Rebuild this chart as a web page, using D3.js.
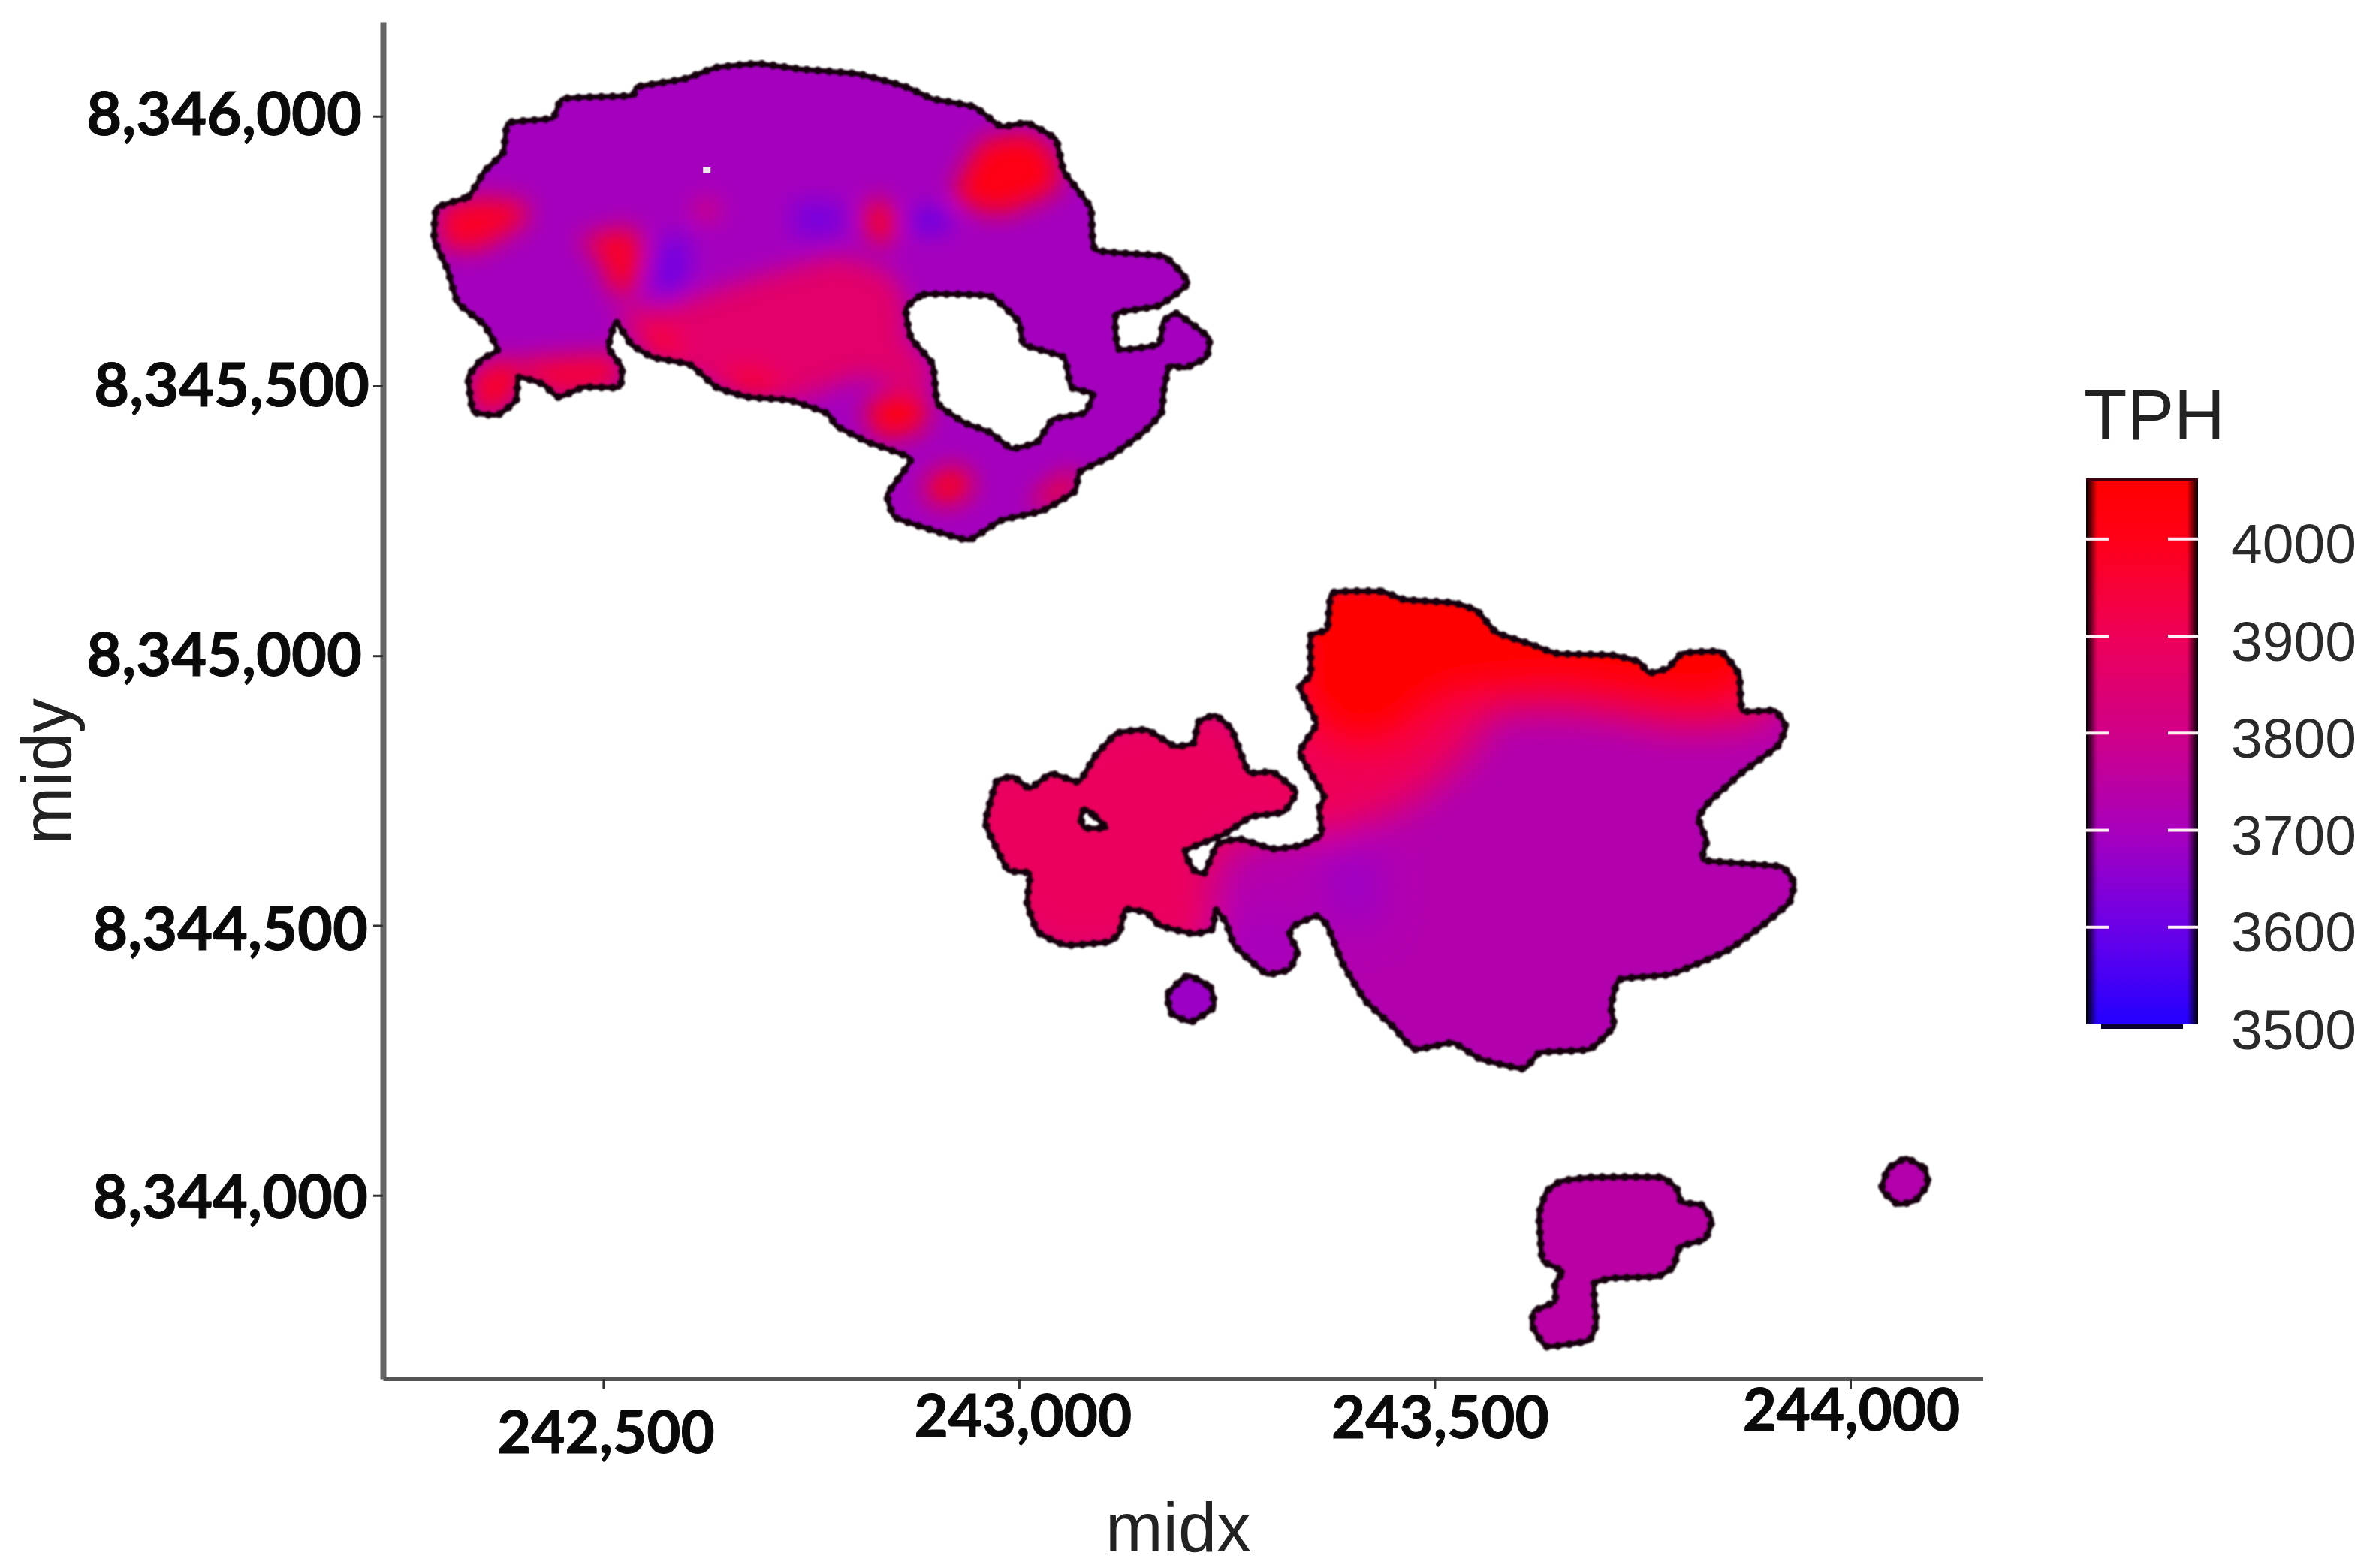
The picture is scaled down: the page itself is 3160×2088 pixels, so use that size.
<!DOCTYPE html>
<html>
<head>
<meta charset="utf-8">
<script src="https://cdn.jsdelivr.net/npm/d3@7"></script>
<style>
  html, body { margin: 0; background: #fff; }
  svg { display: block; }
</style>
</head>
<body>
<svg id="chart" width="3160" height="2088"></svg>
<script>
// axis ticks
const xTicks = [242500, 243000, 243500, 244000];
const yTicks = [8346000, 8345500, 8345000, 8344500, 8344000];
const tphTicks = [3500, 3600, 3700, 3800, 3900, 4000];
const tphRange = [3500, 4061];

// colour bar
const tphStops = [3500, 3600, 3700, 3800, 3900, 4000, 4061];
const tphColours = ["#2400ff", "#6c00e8", "#a800bc", "#d00088", "#ee0058", "#ff0018", "#ff0000"];

// outlines as [midx, midy]
const westOutline = [[242300,8345830],[242338,8345851],[242357,8345897],[242380,8345933],[242386,8345987],[242439,8345996],[242452,8346032],[242534,8346038],[242541,8346054],[242598,8346069],[242636,8346090],[242687,8346097],[242737,8346087],[242807,8346078],[242864,8346054],[242896,8346032],[242946,8346017],[242978,8345981],[243010,8345987],[243044,8345957],[243054,8345897],[243086,8345830],[243092,8345752],[243174,8345740],[243203,8345691],[243168,8345649],[243117,8345634],[243120,8345568],[243168,8345577],[243174,8345619],[243190,8345634],[243228,8345589],[243225,8345553],[243200,8345534],[243181,8345537],[243174,8345492],[243171,8345450],[243149,8345414],[243111,8345371],[243073,8345341],[243067,8345305],[243028,8345269],[242978,8345251],[242940,8345215],[242896,8345233],[242851,8345257],[242842,8345299],[242870,8345365],[242819,8345396],[242781,8345426],[242769,8345450],[242724,8345474],[242674,8345480],[242636,8345498],[242604,8345540],[242560,8345553],[242534,8345577],[242515,8345619],[242506,8345571],[242522,8345534],[242519,8345498],[242477,8345498],[242446,8345480],[242427,8345504],[242398,8345516],[242395,8345474],[242373,8345447],[242344,8345453],[242338,8345516],[242354,8345549],[242373,8345567],[242357,8345613],[242325,8345655],[242313,8345715],[242297,8345770]];
const westLake = [[242864,8345643],[242886,8345670],[242965,8345667],[243000,8345619],[243006,8345577],[243054,8345553],[243063,8345498],[243089,8345486],[243079,8345450],[243041,8345438],[243022,8345396],[242991,8345384],[242965,8345414],[242934,8345432],[242902,8345468],[242896,8345540],[242870,8345589]];
const westSpeck = [[242620,8345905],[242629,8345905],[242629,8345894],[242620,8345894]];
const eastOutline = [[243377,8345116],[243436,8345119],[243463,8345104],[243522,8345098],[243551,8345083],[243574,8345043],[243614,8345022],[243647,8345004],[243712,8345001],[243745,8344989],[243758,8344968],[243781,8344977],[243798,8345004],[243844,8345007],[243866,8344965],[243870,8344898],[243909,8344898],[243922,8344868],[243912,8344832],[243870,8344784],[243830,8344729],[243817,8344699],[243827,8344657],[243824,8344621],[243916,8344609],[243932,8344579],[243926,8344542],[243889,8344494],[243850,8344452],[243784,8344410],[243722,8344400],[243712,8344349],[243715,8344313],[243686,8344271],[243627,8344265],[243607,8344235],[243555,8344253],[243522,8344283],[243476,8344271],[243450,8344313],[243417,8344361],[243390,8344428],[243371,8344500],[243358,8344518],[243331,8344500],[243325,8344482],[243335,8344452],[243325,8344419],[243299,8344410],[243279,8344434],[243259,8344464],[243249,8344506],[243236,8344530],[243233,8344494],[243210,8344485],[243170,8344500],[243154,8344524],[243128,8344530],[243121,8344488],[243108,8344470],[243056,8344464],[243023,8344488],[243010,8344542],[243013,8344597],[242987,8344603],[242967,8344663],[242960,8344693],[242973,8344766],[242993,8344775],[243013,8344754],[243039,8344781],[243072,8344766],[243092,8344814],[243118,8344856],[243154,8344862],[243187,8344832],[243210,8344838],[243216,8344877],[243236,8344889],[243256,8344862],[243276,8344784],[243305,8344784],[243333,8344748],[243318,8344711],[243279,8344702],[243246,8344669],[243200,8344639],[243210,8344603],[243223,8344597],[243239,8344651],[243266,8344660],[243305,8344642],[243338,8344648],[243364,8344669],[243361,8344717],[243367,8344741],[243338,8344820],[243358,8344874],[243338,8344941],[243351,8344965],[243351,8345037],[243371,8345049]];
const eastHole = [[243079,8344717],[243092,8344702],[243105,8344681],[243079,8344681],[243074,8344699]];
const dotOutline = [[243203,8344407],[243230,8344385],[243234,8344349],[243207,8344322],[243184,8344337],[243179,8344373]];
const southOutline = [[243652,8344026],[243688,8344033],[243772,8344033],[243791,8344012],[243797,8343987],[243821,8343982],[243833,8343954],[243825,8343919],[243795,8343905],[243787,8343868],[243768,8343850],[243715,8343847],[243692,8343838],[243692,8343803],[243694,8343762],[243685,8343731],[243635,8343720],[243618,8343757],[243620,8343785],[243645,8343803],[243645,8343836],[243654,8343859],[243631,8343878],[243628,8343905],[243626,8343966],[243635,8344007]];
const farDotOutline = [[244067,8344068],[244089,8344049],[244093,8344021],[244078,8343991],[244057,8343984],[244038,8344012],[244046,8344049]];

// TPH over each area
const westBase = 3695;
const westZones = [
  { tph: 3860, ring: [[242516,8345643],[242579,8345649],[242674,8345697],[242782,8345740],[242845,8345709],[242864,8345649],[242864,8345589],[242896,8345528],[242883,8345492],[242807,8345516],[242731,8345474],[242636,8345498],[242554,8345553]] },
  { tph: 4000, ring: [[242921,8345848],[242953,8345951],[243010,8345969],[243042,8345933],[243048,8345866],[242978,8345818]] },
  { tph: 3980, ring: [[242304,8345830],[242345,8345848],[242402,8345842],[242408,8345806],[242351,8345752],[242307,8345758]] },
  { tph: 3980, ring: [[242472,8345770],[242529,8345794],[242548,8345758],[242535,8345673],[242510,8345673],[242497,8345734]] },
  { tph: 3900, ring: [[242611,8345836],[242636,8345842],[242636,8345812],[242611,8345812]] },
  { tph: 3980, ring: [[242814,8345830],[242833,8345848],[242852,8345812],[242845,8345764],[242820,8345770]] },
  { tph: 3950, ring: [[242541,8345601],[242579,8345613],[242598,8345559],[242560,8345553]] },
  { tph: 3980, ring: [[242636,8345516],[242681,8345534],[242725,8345486],[242674,8345480]] },
  { tph: 4000, ring: [[242814,8345462],[242852,8345492],[242890,8345474],[242883,8345420],[242833,8345402]] },
  { tph: 4000, ring: [[242886,8345317],[242921,8345353],[242947,8345317],[242921,8345281],[242896,8345287]] },
  { tph: 4000, ring: [[243016,8345287],[243061,8345341],[243073,8345317],[243035,8345275]] },
  { tph: 3980, ring: [[242342,8345516],[242377,8345553],[242399,8345522],[242392,8345474],[242370,8345450],[242345,8345456]] },
  { tph: 3950, ring: [[242399,8345547],[242516,8345559],[242516,8345498],[242446,8345480],[242399,8345522]] },
  { tph: 3610, ring: [[242567,8345758],[242598,8345788],[242605,8345709],[242579,8345661],[242560,8345679]] },
  { tph: 3620, ring: [[242731,8345842],[242788,8345836],[242788,8345782],[242731,8345776]] },
  { tph: 3580, ring: [[242871,8345824],[242915,8345824],[242915,8345788],[242871,8345788]] }
];
const eastBase = 3725;
const eastZones = [
  { tph: 3890, ring: [[242911,8344693],[242944,8344796],[243118,8344898],[243236,8344917],[243351,8344784],[243351,8344687],[243259,8344645],[243233,8344585],[243239,8344518],[243220,8344446],[243121,8344446],[243056,8344428],[242983,8344494],[242944,8344585]] },
  { tph: 3900, ring: [[243312,8344820],[243325,8345037],[243903,8345037],[243903,8344880],[243797,8344862],[243686,8344892],[243574,8344892],[243541,8344814],[243469,8344723],[243390,8344675],[243351,8344657]] },
  { tph: 4050, ring: [[243351,8345158],[243883,8345158],[243903,8344989],[243863,8344904],[243784,8344898],[243653,8344929],[243522,8344911],[243456,8344832],[243384,8344820],[243325,8344917]] },
  { tph: 3680, ring: [[243364,8344639],[243430,8344639],[243430,8344506],[243384,8344506]] },
  { tph: 3700, ring: [[243239,8344518],[243351,8344518],[243351,8344403],[243246,8344403]] }
];
const dotTph = 3680;
const southTph = 3745;
const farDotTph = 3730;

const svg = d3.select("#chart");
const defs = svg.append("defs");

const x = d3.scaleLinear().domain([242235, 244159]).range([510, 2640]);
const y = d3.scaleLinear().domain([8343660, 8346175]).range([1836, 29]);
const colour = d3.scaleLinear().domain(tphStops).range(tphColours);
const tphY = d3.scaleLinear().domain(tphRange).range([1364, 639]);

const ringLine = d3.line().x((d) => x(d[0])).y((d) => y(d[1])).curve(d3.curveCardinalClosed.tension(0.6));

function addBlur(id, sd) {
  defs.append("filter").attr("id", id)
    .attr("x", "-50%").attr("y", "-50%").attr("width", "200%").attr("height", "200%")
    .append("feGaussianBlur").attr("stdDeviation", sd);
}
addBlur("soft", 16);
addBlur("softer", 26);
addBlur("edge", 1.3);

// one patch of the map: base fill, blurred TPH zones, then the dark tile edge
function drawArea(id, rings, base, zones, blurId) {
  const d = rings.map((r) => ringLine(r)).join("");
  defs.append("clipPath").attr("id", id)
    .append("path").attr("d", d).attr("clip-rule", "evenodd");

  const g = svg.append("g").attr("filter", "url(#edge)");
  const inner = g.append("g").attr("clip-path", `url(#${id})`);
  inner.append("path").attr("d", d).attr("fill-rule", "evenodd").attr("fill", colour(base));
  inner.append("g").attr("filter", `url(#${blurId})`)
    .selectAll("path").data(zones).join("path")
    .attr("d", (z) => ringLine(z.ring))
    .attr("fill", (z) => colour(z.tph));

  g.append("path").attr("d", d).attr("fill", "none")
    .attr("stroke", "#16000c").attr("stroke-width", 7).attr("stroke-linejoin", "round");
  g.append("path").attr("d", d).attr("fill", "none")
    .attr("stroke", "#16000c").attr("stroke-width", 11)
    .attr("stroke-linecap", "round").attr("stroke-dasharray", "0 15");
}

drawArea("clip-west", [westOutline, westLake], westBase, westZones, "soft");
drawArea("clip-east", [eastOutline, eastHole], eastBase, eastZones, "softer");
drawArea("clip-dot", [dotOutline], dotTph, [], "soft");
drawArea("clip-south", [southOutline], southTph, [], "soft");
drawArea("clip-fardot", [farDotOutline], farDotTph, [], "soft");

svg.append("path").attr("d", d3.line().x((d) => x(d[0])).y((d) => y(d[1]))(westSpeck) + "Z")
  .attr("fill", "#eee8ee");

// axes
const tickFont = "Lato, 'Open Sans', sans-serif";
const yLabelNudge = [[-28, 25], [-18, 27], [-28, 26], [-20, 32], [-20, 30]];
const xLabelNudge = [[3, 99], [5, 77], [7, 79], [1, 69]];

const yAxis = svg.append("g").attr("transform", `translate(${x.range()[0]},0)`)
  .call(d3.axisLeft(y).tickValues(yTicks).tickFormat(d3.format(",")).tickSize(13).tickSizeOuter(0));
yAxis.select(".domain").attr("stroke", "#666").attr("stroke-width", 8);
yAxis.selectAll(".tick line").attr("stroke", "#333").attr("stroke-width", 3);
yAxis.selectAll(".tick text")
  .attr("font-family", tickFont).attr("font-weight", 700).attr("font-size", 81).attr("fill", "#0a0a0a")
  .attr("stroke", "#0a0a0a").attr("stroke-width", 1)
  .attr("dy", 0)
  .attr("x", (d, i) => yLabelNudge[i][0])
  .attr("y", (d, i) => yLabelNudge[i][1]);

const xAxis = svg.append("g").attr("transform", `translate(0,${y.range()[0]})`)
  .call(d3.axisBottom(x).tickValues(xTicks).tickFormat(d3.format(",")).tickSize(13).tickSizeOuter(0));
xAxis.select(".domain").attr("stroke", "#555").attr("stroke-width", 5);
xAxis.selectAll(".tick line").attr("stroke", "#333").attr("stroke-width", 3);
xAxis.selectAll(".tick text")
  .attr("font-family", tickFont).attr("font-weight", 700).attr("font-size", 78).attr("fill", "#0a0a0a")
  .attr("stroke", "#0a0a0a").attr("stroke-width", 1)
  .attr("dy", 0)
  .attr("dx", (d, i) => xLabelNudge[i][0])
  .attr("y", (d, i) => xLabelNudge[i][1]);

const labelFont = "'Liberation Sans', Arial, sans-serif";
svg.append("text").attr("x", 1569).attr("y", 2066).attr("text-anchor", "middle")
  .attr("font-family", labelFont).attr("font-size", 92).attr("fill", "#222").text("midx");
svg.append("text").attr("transform", "translate(94,1027) rotate(-90)").attr("text-anchor", "middle")
  .attr("font-family", labelFont).attr("font-size", 92).attr("fill", "#222").text("midy");

// colour bar
const barX = 2778;
const barW = 149;
const grad = defs.append("linearGradient").attr("id", "tph-bar").attr("x1", 0).attr("x2", 0).attr("y1", 1).attr("y2", 0);
tphStops.forEach((v, i) => {
  grad.append("stop")
    .attr("offset", (v - tphRange[0]) / (tphRange[1] - tphRange[0]))
    .attr("stop-color", tphColours[i]);
});
const shade = defs.append("linearGradient").attr("id", "bar-edge");
[[0, 1], [0.1, 0], [0.9, 0], [1, 1]].forEach(([o, a]) => {
  shade.append("stop").attr("offset", o).attr("stop-color", "#000").attr("stop-opacity", a);
});

const legend = svg.append("g");
const barTop = tphY.range()[1];
const barH = tphY.range()[0] - barTop;
legend.append("rect").attr("x", barX).attr("y", barTop).attr("width", barW).attr("height", barH).attr("fill", "url(#tph-bar)");
legend.append("rect").attr("x", barX).attr("y", barTop).attr("width", barW).attr("height", barH).attr("fill", "url(#bar-edge)");
legend.append("rect").attr("x", barX).attr("y", barTop - 2).attr("width", barW).attr("height", 4).attr("fill", "#400010");
legend.append("rect").attr("x", barX + 20).attr("y", tphY.range()[0]).attr("width", barW - 40).attr("height", 6).attr("fill", "#0c0030");

const barTicks = tphTicks.filter((v) => v > tphRange[0]);
legend.selectAll(".tick-l").data(barTicks).join("line").attr("class", "tick-l")
  .attr("x1", barX).attr("x2", barX + 30)
  .attr("y1", (d) => tphY(d)).attr("y2", (d) => tphY(d))
  .attr("stroke", "#fff0f5").attr("stroke-width", 4);
legend.selectAll(".tick-r").data(barTicks).join("line").attr("class", "tick-r")
  .attr("x1", barX + barW - 40).attr("x2", barX + barW)
  .attr("y1", (d) => tphY(d)).attr("y2", (d) => tphY(d))
  .attr("stroke", "#fff0f5").attr("stroke-width", 4);

const barAxis = legend.append("g").attr("transform", `translate(${barX + barW},0)`)
  .call(d3.axisRight(tphY).tickValues(tphTicks).tickFormat(d3.format("d")).tickSize(0).tickPadding(44));
barAxis.select(".domain").remove();
barAxis.selectAll("text")
  .attr("font-family", labelFont).attr("font-size", 75).attr("fill", "#2a2a2a")
  .attr("dy", 0).attr("y", 32);

legend.append("text").attr("x", 2775).attr("y", 585)
  .attr("font-family", labelFont).attr("font-size", 94).attr("fill", "#222").text("TPH");
</script>
</body>
</html>
